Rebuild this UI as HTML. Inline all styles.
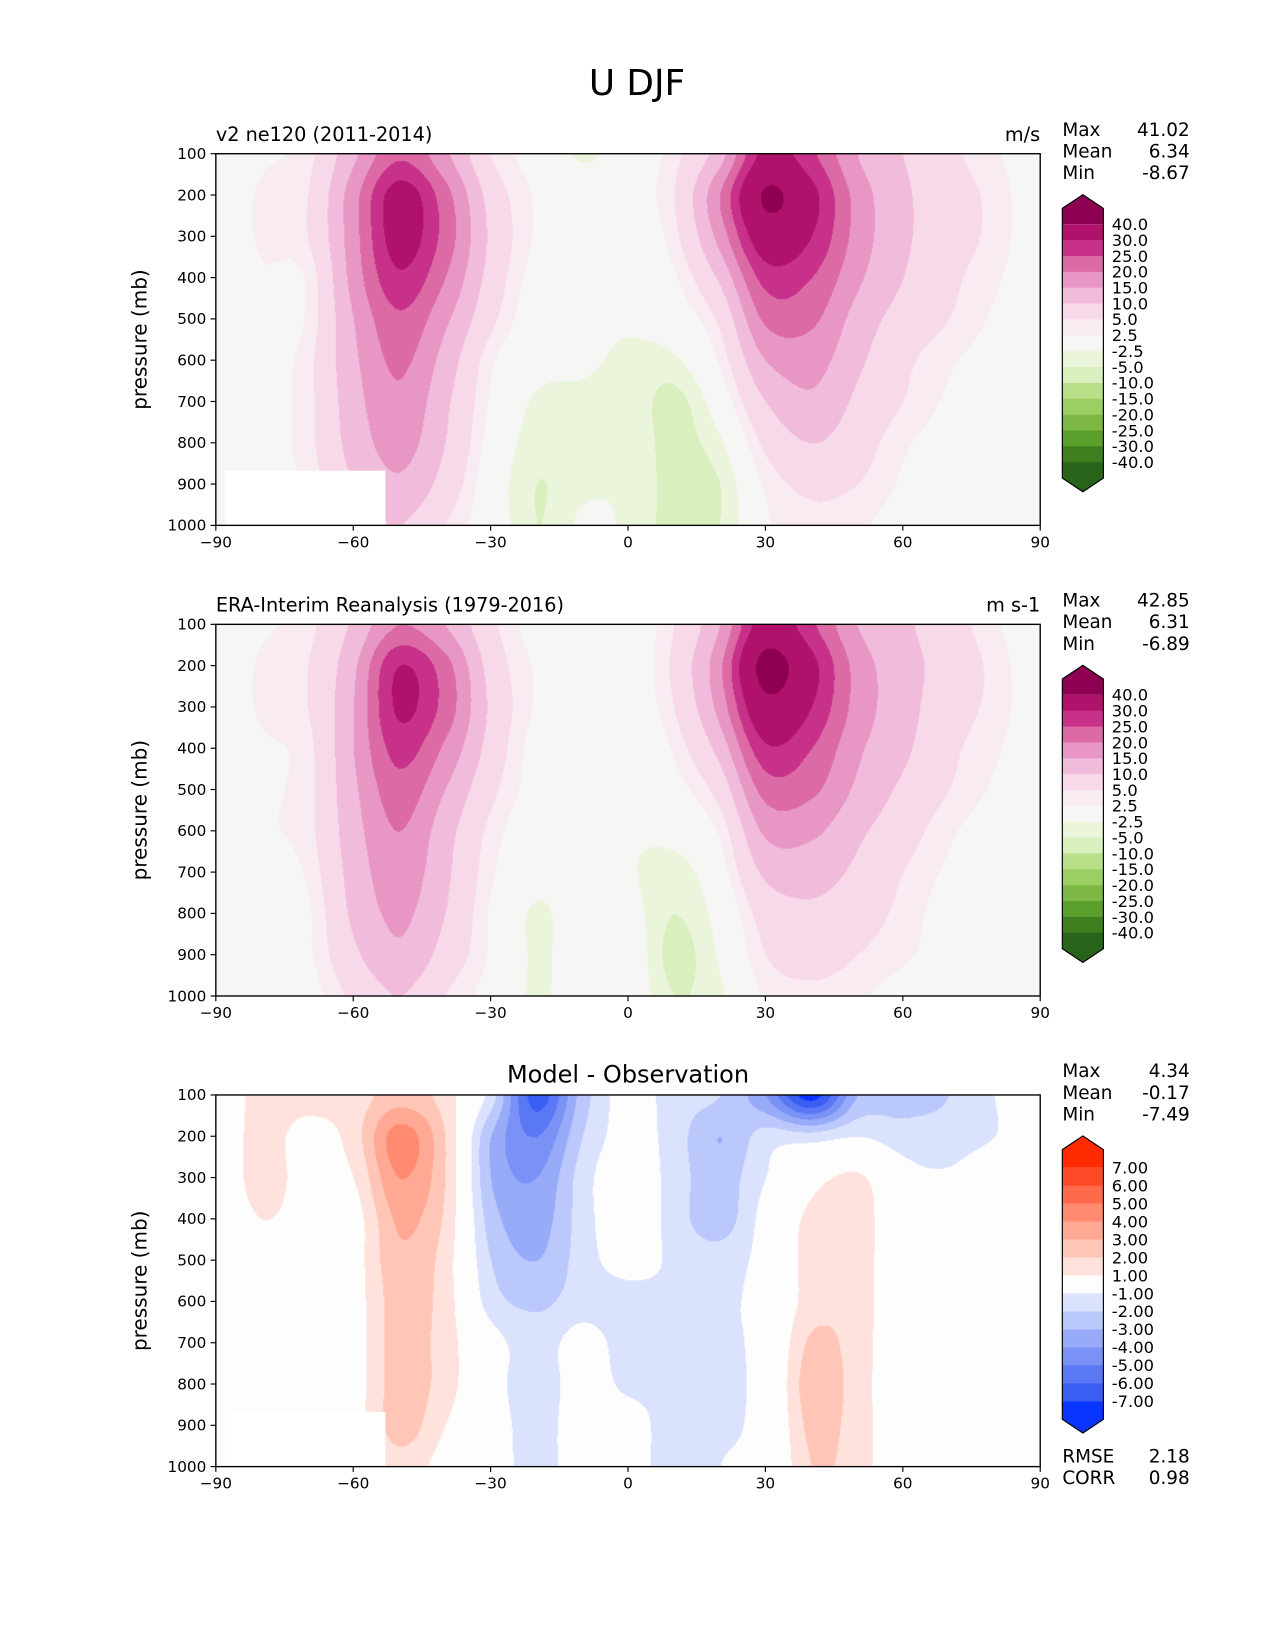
<!DOCTYPE html>
<html><head><meta charset="utf-8">
<style>
html,body{margin:0;padding:0;background:#fff;}
#root{position:relative;width:1275px;height:1650px;overflow:hidden;}
#wrap{position:absolute;left:0;top:0;width:1211px;height:1568px;transform:scale(1.05285);transform-origin:0 0;font-family:"DejaVu Sans","Liberation Sans",sans-serif;}
canvas{position:absolute;}
svg{position:absolute;left:0;top:0;}
</style></head>
<body>
<div id="root">
<div id="wrap">
<canvas id="c1" width="783" height="353" style="left:205px;top:146px"></canvas>
<canvas id="c2" width="783" height="353" style="left:205px;top:593px"></canvas>
<canvas id="c3" width="783" height="353" style="left:205px;top:1040px"></canvas>
<svg id="ov" width="1211" height="1568"></svg>
</div></div>
<script>
const lats=[-90,-80,-70,-60,-50,-40,-30,-20,-10,0,10,20,30,40,50,60,70,80,90];
const levels=[100,200,300,400,500,600,700,800,900,1000];
const modelU=[
[0,2,4,14,24,16,5,1,-3,0,4,13,32,26,15,10,6,3,0],
[0,3,5,18,33,22,8,2,0,1,5,20,41,32,18,11,7,4,0],
[0,3,5,18,33,23,9,2,0,0,4,17,35,30,18,11,7,4,0],
[0,2,3,17,29,20,8,1,0,-1,2,11,27,25,16,10,6,3,0],
[0,1,3,15,24,16,6,0,-1,-2,0,6,21,21,13,8,5,2,0],
[0,1,4,14,21,13,3,-1,-2,-3,-3,3,15,17,11,6,3,1,0],
[0,1,4,13,19,11,2,-3,-3,-3,-6,0,10,14,9,5,2,1,0],
[0,1,4,12,17,10,1,-4,-3,-3,-6,-3,6,10,7,3,1,0,0],
[0,1,3,10,14,8,0,-5,-3,-3,-6,-5,3,6,5,2,0,0,0],
[0,0,2,7,10,5,0,-5,-2,-3,-6,-5,2,4,3,1,0,0,0]];
const obsU=[
[0,2,4,11,20,15,6,1,0,0,5,15,34,26,15,11,7,3,0],
[0,3,5,14,30,22,8,2,0,0,6,19,43,32,18,12,8,4,0],
[0,3,5,15,31,23,9,2,0,0,5,17,37,30,18,12,7,4,0],
[0,2,4,15,27,19,8,1,0,-1,3,12,29,25,16,11,6,3,0],
[0,2,4,14,23,15,6,1,0,-2,1,7,22,21,14,9,5,2,0],
[0,2,4,13,20,12,4,0,0,-2,-1,3,16,16,11,7,3,1,0],
[0,1,3,12,18,11,3,-1,0,-2,-4,1,11,12,9,5,2,1,0],
[0,1,2,11,16,10,2,-3,0,-1,-5,-1,7,9,7,4,1,0,0],
[0,1,2,9,14,8,2,-3,0,0,-6,-2,5,7,5,3,1,0,0],
[0,0,1,6,10,5,1,-3,0,0,-5,-3,3,4,3,1,0,0,0]];
const diffU=[
[0,1.5,1.5,1.5,2.5,1.5,-1.5,-6.5,-2.5,-0.5,-1.5,-2,-4,-7.5,-3,-2.5,-2,-1,0],
[0,1.5,0.5,1.5,4.5,2,-3,-5,-2,-0.5,-1.5,-3,-1.5,-1.5,-1,-1.5,-1.5,-1,0],
[0,1.5,0.5,1,4,2,-3,-4,-1.5,0,-1.5,-2.5,-1,0.5,1.2,-0.5,-0.8,0,0],
[0,1,0.5,0.5,3.2,1.8,-2.5,-3.5,-1.5,0,-1.5,-2.5,-0.5,1.3,1.5,0,0,0,0],
[0,0.5,0,0.5,2.8,1.5,-2,-3,-1.5,-0.5,-1.2,-1.5,-0.5,1.5,1.5,0,0,0,0],
[0,0,0,0.5,2.5,1.5,-1.5,-2.2,-1.5,-1.5,-1.2,-1.2,-0.5,1.5,1.5,0,0,0,0],
[0,0,0,0.5,2.5,1.5,-0.5,-1.5,-0.5,-1.5,-1.2,-1.2,-0.5,2.2,1.5,0,0,0,0],
[0,0,0.5,0.5,2.5,1.5,-0.5,-1.5,-0.5,-1.2,-1.2,-1.2,-0.5,2.6,1.5,0,0,0,0],
[0,0,0,0.5,2.5,1,-0.5,-1.3,-0.5,-0.5,-1.5,-1.2,-0.5,2.3,1.5,0,0,0,0],
[0,0,0,0,1.5,0.5,-0.5,-1.3,-0.5,-0.5,-1.5,-1,-0.5,2,1.5,0,0,0,0]];
const uBounds=[40,30,25,20,15,10,5,2.5,-2.5,-5,-10,-15,-20,-25,-30,-40];
const uLabels=["40.0","30.0","25.0","20.0","15.0","10.0","5.0","2.5","-2.5","-5.0","-10.0","-15.0","-20.0","-25.0","-30.0","-40.0"];
const uColors=["#8e0152","#b0126b","#c7318a","#dc6aa4","#e897c4","#f1bbdb","#f8d9ea","#f8ebf2","#f6f6f4","#eaf5dc","#d9efbe","#b9e088","#9bcf63","#7cb843","#5a9e2c","#3f7e1f","#276419"];
const dBounds=[7,6,5,4,3,2,1,-1,-2,-3,-4,-5,-6,-7];
const dLabels=["7.00","6.00","5.00","4.00","3.00","2.00","1.00","-1.00","-2.00","-3.00","-4.00","-5.00","-6.00","-7.00"];
const dColors=["#ff2a00","#ff4a28","#ff6a4c","#ff8a70","#ffa894","#ffc6b8","#ffe2dc","#fdfdfd","#dbe2fd","#bac8fb","#98abf8","#7a91f6","#5a77f4","#3a5df2","#0a34ff"];
const xTicks=[-90,-60,-30,0,30,60,90];
const xTickLabels=["\u221290","\u221260","\u221230","0","30","60","90"];
const yTicks=[100,200,300,400,500,600,700,800,900,1000];

const PX0=205,PW=783,PH=353;
const xs=lat=>(lat+90)/180*PW;
const ys=p=>(p-100)/900*PH;
function cr(p0,p1,p2,p3,t){return 0.5*((2*p1)+(-p0+p2)*t+(2*p0-5*p1+4*p2-p3)*t*t+(-p0+3*p1-3*p2+p3)*t*t*t);}
function g(gr,j,i){j=Math.max(0,Math.min(9,j));i=Math.max(0,Math.min(18,i));return gr[j][i];}
function sample(gr,lat,p){
 let fi=(lat+90)/10,fj=(p-100)/100;
 let i=Math.min(17,Math.floor(fi)),j=Math.min(8,Math.floor(fj));
 let a=fi-i,b=fj-j,rows=[];
 for(let k=-1;k<=2;k++){rows.push(cr(g(gr,j+k,i-1),g(gr,j+k,i),g(gr,j+k,i+1),g(gr,j+k,i+2),a));}
 return cr(rows[0],rows[1],rows[2],rows[3],b);
}
function hex(c){return [parseInt(c.slice(1,3),16),parseInt(c.slice(3,5),16),parseInt(c.slice(5,7),16)];}
function draw(id,grid,bounds,cols,mask){
 const cv=document.getElementById(id),ctx=cv.getContext('2d');
 const img=ctx.createImageData(PW,PH);const rgb=cols.map(hex);
 for(let y=0;y<PH;y++){const p=100+y/PH*900;
  for(let x=0;x<PW;x++){const lat=-90+x/PW*180;
   let v=sample(grid,lat,p);let k=rgb.length-1;
   for(let i=0;i<bounds.length;i++){if(v>=bounds[i]){k=i;break;}}
   let c=rgb[k];
   if(mask&&lat>-88&&lat<-53&&p>865)c=[255,255,255];
   const o=(y*PW+x)*4;img.data[o]=c[0];img.data[o+1]=c[1];img.data[o+2]=c[2];img.data[o+3]=255;}}
 ctx.putImageData(img,0,0);
}
draw('c1',modelU,uBounds,uColors,true);
draw('c2',obsU,uBounds,uColors,false);
draw('c3',diffU,dBounds,dColors,true);

const NS='http://www.w3.org/2000/svg',ov=document.getElementById('ov');
function el(tag,attrs,txt){const e=document.createElementNS(NS,tag);for(const k in attrs)e.setAttribute(k,attrs[k]);if(txt!==undefined)e.textContent=txt;ov.appendChild(e);return e;}
let t=el('text',{x:605,y:90,'font-size':34,'text-anchor':'middle'},'U DJF');



const panels=[
 {top:146,left:'v2 ne120 (2011-2014)',right:'m/s',stats:[['Max','41.02'],['Mean','6.34'],['Min','-8.67']],cb:'u',name:'model'},
 {top:593,left:'ERA-Interim Reanalysis (1979-2016)',right:'m s-1',stats:[['Max','42.85'],['Mean','6.31'],['Min','-6.89']],cb:'u',name:'obs'},
 {top:1040,center:'Model - Observation',stats:[['Max','4.34'],['Mean','-0.17'],['Min','-7.49']],cb:'d',name:'diff'}];
panels.forEach(pn=>{
 const T=pn.top;
 let r=el('rect',{x:PX0,y:T,width:PW,height:PH,fill:'none',stroke:'#000','stroke-width':1.3});
 
 
 xTicks.forEach((v,i)=>{const x=PX0+xs(v);
  el('line',{x1:x,x2:x,y1:T+PH,y2:T+PH+5,stroke:'#000','stroke-width':1.1});
  let l=el('text',{x:x,y:T+PH+21,'font-size':14.5,'text-anchor':'middle'},xTickLabels[i]);
  
  });
 yTicks.forEach(v=>{const y=T+ys(v);
  el('line',{x1:PX0-5,x2:PX0,y1:y,y2:y,stroke:'#000','stroke-width':1.1});
  let l=el('text',{x:PX0-9,y:y+5,'font-size':14.5,'text-anchor':'end'},String(v));
  
  });
 let yl=el('text',{x:0,y:0,'font-size':19,'text-anchor':'middle',transform:`translate(139,${T+PH/2}) rotate(-90)`},'pressure (mb)');
 
 
 if(pn.left){let a=el('text',{x:PX0,y:T-12,'font-size':18.3},pn.left);
  
  
  let b=el('text',{x:PX0+PW,y:T-12,'font-size':18.3,'text-anchor':'end'},pn.right);
  
  }
 if(pn.center){let a=el('text',{x:PX0+PW/2,y:T-12,'font-size':22.8,'text-anchor':'middle'},pn.center);
  
  }
 pn.stats.forEach((s,i)=>{const y=T-17+i*20.6;
  let a=el('text',{x:1009,y:y,'font-size':17.5},s[0]);
  
  
  let b=el('text',{x:1130,y:y,'font-size':17.5,'text-anchor':'end'},s[1]);
  
  });
 const isU=pn.cb==='u';
 const bounds=isU?uBounds:dBounds,labels=isU?uLabels:dLabels,cols=isU?uColors:dColors;
 const y0=isU?T+67:T+69,y1=isU?T+293:T+291;
 const step=(y1-y0)/(bounds.length-1);
 const xL=1009,xR=1048,xm=(xL+xR)/2;
 const topBase=y0-step, botBase=y1+step;
 let tri=el('polygon',{points:`${xL},${topBase} ${xm},${topBase-13} ${xR},${topBase} ${xR},${y0} ${xL},${y0}`,fill:cols[0]});
 
 
 for(let i=0;i<bounds.length-1;i++){
  let b=el('rect',{x:xL,y:y0+i*step,width:xR-xL,height:step+0.5,fill:cols[i+1]});
  
  }
 let tri2=el('polygon',{points:`${xL},${y1} ${xR},${y1} ${xR},${botBase} ${xm},${botBase+13} ${xL},${botBase}`,fill:cols[cols.length-1]});
 
 
 el('polygon',{points:`${xL},${topBase} ${xm},${topBase-13} ${xR},${topBase} ${xR},${botBase} ${xm},${botBase+13} ${xL},${botBase}`,fill:'none',stroke:'#000','stroke-width':1.1});
 labels.forEach((lb,i)=>{const y=y0+i*step;
  let l=el('text',{x:1056,y:y+5.5,'font-size':15.5},lb);
  
  });
 if(!isU){[['RMSE','2.18'],['CORR','0.98']].forEach((s,i)=>{const y=T+349+i*20.6;
  let a=el('text',{x:1009,y:y,'font-size':17.5},s[0]);
  
  
  let b=el('text',{x:1130,y:y,'font-size':17.5,'text-anchor':'end'},s[1]);
  
  });}
});
</script>
</body></html>
